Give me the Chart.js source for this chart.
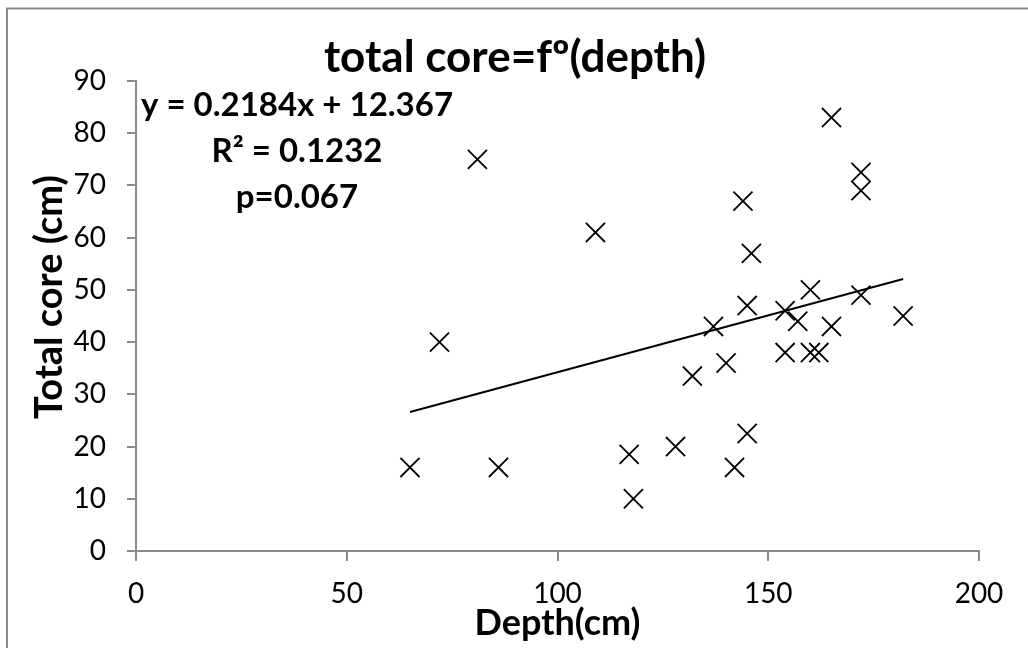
<!DOCTYPE html>
<html>
<head>
<meta charset="utf-8">
<title>total core=fº(depth)</title>
<script src="https://cdn.jsdelivr.net/npm/chart.js@4.4.1/dist/chart.umd.min.js"></script>
<style>
  html, body { margin: 0; padding: 0; background: #fff; }
  canvas { display: block; }
</style>
</head>
<body>
<canvas id="coreChart" width="1028" height="648"></canvas>
<script>
// values
const depthValues = [65, 72, 81, 86, 109, 117, 118, 128, 132, 137, 140, 142, 144, 145,
  145, 146, 154, 154, 157, 160, 160, 162, 165, 165, 172, 172, 172, 182];
const coreValues = [16, 40, 75, 16, 61, 18.5, 10, 20, 33.5, 43, 36, 16, 67, 47,
  22.5, 57, 46, 38, 44, 50, 38, 38, 83, 43, 72.5, 69, 49, 45];

// ends of the linear trend line
const trendDepth = [65, 182];
const trendCore = [26.6, 52.1];

const xTicks = [0, 50, 100, 150, 200];
const yTicks = [0, 10, 20, 30, 40, 50, 60, 70, 80, 90];

const chartTitle = "total core=fº(depth)";
const xTitle = "Depth(cm)";
const yTitle = "Total core (cm)";
const fitLines = ["y = 0.2184x + 12.367", "R² = 0.1232", "p=0.067"];

const axisGray = "#8a8a8a";

// frame, title, trendline label and y axis title
const textLayer = {
  id: "textLayer",
  beforeDraw(chart) {
    const ctx = chart.ctx;
    ctx.save();
    ctx.fillStyle = "#fff";
    ctx.fillRect(0, 0, chart.width, chart.height);
    ctx.strokeStyle = axisGray;
    ctx.lineWidth = 2;
    ctx.strokeRect(7, 8.5, chart.width + 20, chart.height + 20);
    ctx.restore();
  },
  afterDraw(chart) {
    const ctx = chart.ctx;
    ctx.save();
    ctx.fillStyle = "#000";
    ctx.textAlign = "center";
    ctx.textBaseline = "alphabetic";

    ctx.font = "bold 44px Lato";
    ctx.fillText(chartTitle, 515, 72);

    ctx.font = "bold 33px Lato";
    fitLines.forEach((line, i) => {
      ctx.fillText(line, 297, 116 + i * 46);
    });

    ctx.translate(62, 297);
    ctx.rotate(-Math.PI / 2);
    ctx.font = "bold 38px Lato";
    ctx.fillText(yTitle, 0, 0);
    ctx.restore();
  },
};

function buildChart() {
  Chart.defaults.font.family = "Lato";
  Chart.defaults.color = "#000";

  const points = depthValues.map((d, i) => ({ x: d, y: coreValues[i] }));
  const trend = trendDepth.map((d, i) => ({ x: d, y: trendCore[i] }));

  new Chart(document.getElementById("coreChart"), {
    type: "scatter",
    data: {
      datasets: [
        {
          label: "Total core",
          data: points,
          pointStyle: "crossRot",
          pointRadius: 13.5,
          pointBorderWidth: 1.8,
          borderColor: "#000",
          backgroundColor: "#000",
        },
        {
          type: "line",
          label: "Linear trend",
          data: trend,
          borderColor: "#000",
          borderWidth: 2,
          pointRadius: 0,
          fill: false,
        },
      ],
    },
    options: {
      responsive: false,
      animation: false,
      layout: { padding: { top: 81, left: 0, right: 49, bottom: 0 } },
      plugins: {
        legend: { display: false },
        tooltip: { enabled: false },
        title: { display: false },
      },
      scales: {
        x: {
          type: "linear",
          position: "bottom",
          min: 0,
          max: 200,
          afterBuildTicks: (scale) => {
            scale.ticks = xTicks.map((v) => ({ value: v }));
          },
          afterFit: (scale) => {
            scale.height = 97;
          },
          ticks: { font: { size: 28 }, color: "#000", padding: 16, maxRotation: 0 },
          grid: {
            drawOnChartArea: false,
            drawTicks: true,
            tickLength: 10,
            color: axisGray,
            lineWidth: 2,
          },
          border: { color: axisGray, width: 2 },
          title: {
            display: true,
            text: xTitle,
            color: "#000",
            font: { size: 36, weight: "bold" },
            padding: { top: 3, bottom: 3 },
          },
        },
        y: {
          type: "linear",
          min: 0,
          max: 90,
          afterBuildTicks: (scale) => {
            scale.ticks = yTicks.map((v) => ({ value: v }));
          },
          afterFit: (scale) => {
            scale.width = 136;
          },
          ticks: { font: { size: 28 }, color: "#000", padding: 21 },
          grid: {
            drawOnChartArea: false,
            drawTicks: true,
            tickLength: 9,
            color: axisGray,
            lineWidth: 2,
          },
          border: { color: axisGray, width: 2 },
          title: { display: false },
        },
      },
    },
    plugins: [textLayer],
  });
}

Promise.all([
  document.fonts.load("28px Lato"),
  document.fonts.load("bold 36px Lato"),
]).then(buildChart, buildChart);
</script>
</body>
</html>
